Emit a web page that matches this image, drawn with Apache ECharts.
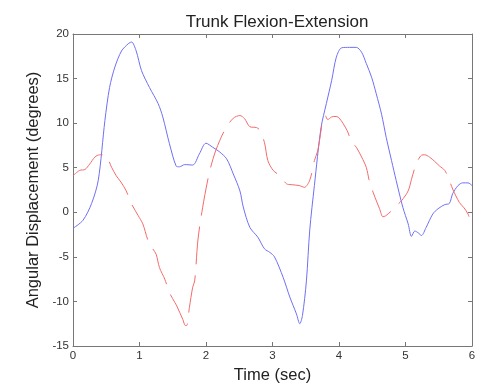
<!DOCTYPE html>
<html>
<head>
<meta charset="utf-8">
<script src="https://cdn.jsdelivr.net/npm/echarts@6/dist/echarts.min.js"></script>
<style>
  html, body { margin: 0; padding: 0; background: #fff; }
  #main { width: 483px; height: 386px; }
</style>
</head>
<body>
<div id="main"></div>
<script>
// blue (solid) trace
const blueTime = [0, 0.15, 0.28, 0.38, 0.48, 0.55, 0.63, 0.73, 0.83, 0.88, 0.95, 1.03, 1.15, 1.28, 1.35, 1.45, 1.55, 1.6, 1.68, 1.8, 1.9, 2.0, 2.1, 2.2, 2.31, 2.41, 2.51, 2.56, 2.66, 2.78, 2.88, 2.96, 3.03, 3.16, 3.26, 3.36, 3.41, 3.45, 3.51, 3.56, 3.63, 3.73, 3.81, 3.89, 3.96, 4.04, 4.16, 4.26, 4.34, 4.41, 4.49, 4.56, 4.64, 4.71, 4.79, 4.86, 4.96, 5.04, 5.09, 5.14, 5.19, 5.24, 5.31, 5.41, 5.49, 5.59, 5.66, 5.71, 5.79, 5.86, 5.94, 6.0];
const blueVals = [-1.8, -0.9, 1.0, 3.6, 10.3, 14.0, 16.3, 18.1, 18.9, 19.1, 18.1, 15.9, 14.0, 12.2, 10.7, 7.7, 5.2, 5.1, 5.35, 5.3, 6.55, 7.75, 7.3, 6.8, 6.0, 4.3, 2.4, 0.6, -1.7, -2.8, -4.1, -4.5, -5.0, -7.3, -9.5, -11.4, -12.5, -11.6, -7.7, -2.0, 3.0, 9.5, 12.2, 14.8, 17.4, 18.45, 18.5, 18.5, 17.95, 16.7, 15.15, 13.3, 11.0, 8.4, 5.8, 3.56, 0.56, -1.3, -2.7, -2.1, -2.3, -2.6, -1.7, -0.2, 0.4, 0.86, 1.0, 2.1, 3.0, 3.3, 3.3, 3.0];

// red (dashed) trace
const redTime = [0, 0.1, 0.18, 0.25, 0.33, 0.4, 0.48, 0.58, 0.65, 0.72, 0.8, 0.88, 0.98, 1.05, 1.13, 1.2, 1.25, 1.3, 1.38, 1.45, 1.53, 1.56, 1.65, 1.69, 1.71, 1.75, 1.8, 1.83, 1.88, 1.95, 2.02, 2.07, 2.15, 2.28, 2.41, 2.51, 2.58, 2.66, 2.76, 2.81, 2.88, 2.93, 3.01, 3.11, 3.21, 3.28, 3.4, 3.48, 3.56, 3.63, 3.68, 3.73, 3.76, 3.79, 3.83, 3.89, 3.94, 4.0, 4.12, 4.19, 4.26, 4.34, 4.41, 4.46, 4.54, 4.61, 4.66, 4.7, 4.78, 4.85, 4.94, 5.04, 5.09, 5.16, 5.24, 5.29, 5.36, 5.44, 5.51, 5.59, 5.66, 5.71, 5.81, 5.88, 5.94, 6.0];
const redVals = [4.1, 4.7, 4.8, 5.4, 6.2, 6.45, 6.45, 5.05, 4.1, 3.4, 2.4, 0.94, -0.37, -1.3, -3.2, -4.1, -4.7, -6.2, -7.5, -9.0, -10.1, -10.5, -12.0, -12.7, -12.7, -10.7, -8.4, -7.7, -3.0, 0.56, 3.4, 5.05, 7.0, 9.2, 10.55, 10.85, 10.5, 9.6, 9.5, 9.2, 7.8, 5.8, 4.7, 4.1, 3.2, 3.1, 3.0, 2.8, 3.6, 5.8, 6.9, 9.2, 10.7, 10.85, 10.4, 10.7, 10.75, 10.6, 9.2, 7.9, 7.3, 6.2, 5.05, 3.4, 1.7, 0.4, -0.5, -0.4, 0.1, 0.64, 1.3, 2.4, 3.7, 5.4, 6.4, 6.45, 6.2, 5.7, 5.2, 4.7, 3.56, 2.6, 1.1, 0.5, -0.2, -1.5];

const xTicks = [0, 1, 2, 3, 4, 5, 6];
const yTicks = [-15, -10, -5, 0, 5, 10, 15, 20];

const pair = (ts, vs) => ts.map((t, i) => [t, vs[i]]);

const chart = echarts.init(document.getElementById("main"));

const font = "Liberation Sans, Arial, sans-serif";
const axisFont = { fontFamily: font, fontSize: 11.5, color: "#333" };
const nameFont = { fontFamily: font, fontSize: 16.5, color: "#222" };
const axisLine = { show: true, onZero: false, lineStyle: { color: "#777", width: 1 } };
const axisTick = { show: true, inside: true, length: 4, lineStyle: { color: "#777" } };

const options = {
  animation: false,
  title: {
    text: "Trunk Flexion-Extension",
    left: 272,
    top: 9,
    textAlign: "center",
    textStyle: { fontFamily: font, fontSize: 17, fontWeight: "normal", color: "#222" },
  },
  grid: { left: 73, right: 11, top: 34, bottom: 40, outerBoundsMode: "none", containLabel: false },
  xAxis: [
    {
      type: "value",
      min: xTicks[0],
      max: xTicks[xTicks.length - 1],
      interval: 1,
      name: "Time (sec)",
      nameLocation: "middle",
      nameGap: 20,
      nameTextStyle: nameFont,
      axisLine,
      axisTick,
      axisLabel: { ...axisFont, margin: 4 },
      splitLine: { show: false },
    },
    {
      type: "value",
      position: "top",
      min: xTicks[0],
      max: xTicks[xTicks.length - 1],
      interval: 1,
      axisLine,
      axisTick,
      axisLabel: { show: false },
      splitLine: { show: false },
    },
  ],
  yAxis: [
    {
      type: "value",
      min: yTicks[0],
      max: yTicks[yTicks.length - 1],
      interval: 5,
      name: "Angular Displacement (degrees)",
      nameLocation: "middle",
      nameGap: 27,
      nameTextStyle: nameFont,
      axisLine,
      axisTick,
      axisLabel: { ...axisFont, margin: 4 },
      splitLine: { show: false },
    },
    {
      type: "value",
      position: "right",
      min: yTicks[0],
      max: yTicks[yTicks.length - 1],
      interval: 5,
      axisLine,
      axisTick,
      axisLabel: { show: false },
      splitLine: { show: false },
    },
  ],
  series: [
    {
      name: "blue",
      type: "line",
      data: pair(blueTime, blueVals),
      symbol: "none",
      smooth: 0.3,
      lineStyle: { color: "#6f6ff5", width: 1 },
    },
    {
      name: "red",
      type: "line",
      data: pair(redTime, redVals),
      symbol: "none",
      smooth: 0.3,
      lineStyle: { color: "#f26b6b", width: 1, type: [38, 11] },
    },
  ],
};
chart.setOption(options);
</script>
</body>
</html>
